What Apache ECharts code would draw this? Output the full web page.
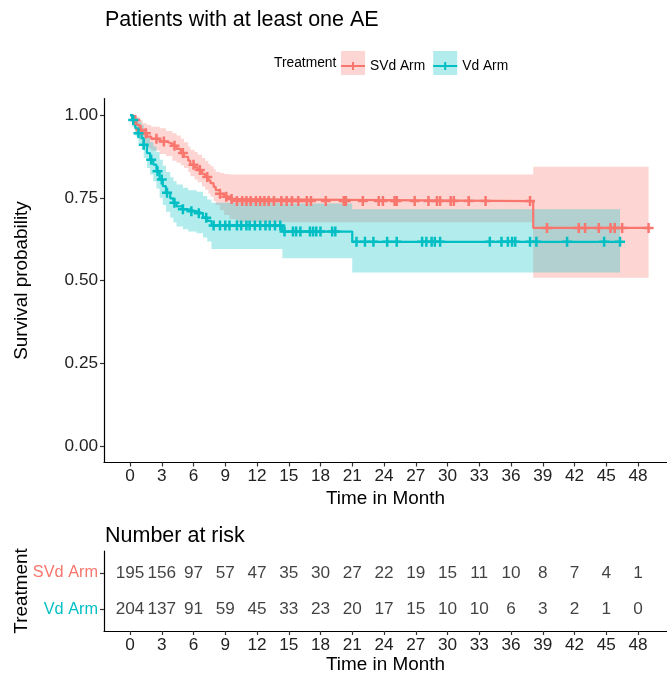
<!DOCTYPE html>
<html>
<head>
<meta charset="utf-8">
<script src="https://cdn.jsdelivr.net/npm/echarts@6/dist/echarts.min.js"></script>
<style>html,body{margin:0;padding:0;background:#fff}#c{width:667px;height:675px}</style>
</head>
<body>
<div id="c"></div>
<script>
// ---------- data ----------
const months = [0,3,6,9,12,15,18,21,24,27,30,33,36,39,42,45,48];
const yTicks = [0,0.25,0.5,0.75,1];
const groups = ['SVd Arm','Vd Arm'];
const svdRisk = [195,156,97,57,47,35,30,27,22,19,15,11,10,8,7,4,1];
const vdRisk  = [204,137,91,59,45,33,23,20,17,15,10,10,6,3,2,1,0];

// SVd arm Kaplan-Meier steps (time of step, survival after step, CI upper, CI lower)
const svdTime  = [0,0.3,0.6,0.9,1.2,1.6,2.0,2.8,3.4,4.0,4.4,4.8,5.1,5.5,5.7,6.1,6.4,6.8,7.1,7.4,7.6,7.9,8.1,8.5,8.9,9.4,10.0,38.1];
const svdSurv  = [1,0.985,0.97,0.955,0.945,0.935,0.928,0.92,0.914,0.907,0.898,0.885,0.874,0.862,0.85,0.842,0.834,0.822,0.813,0.803,0.794,0.783,0.773,0.762,0.753,0.746,0.740,0.659];
const svdUpper = [1,1.0,0.995,0.985,0.975,0.97,0.965,0.96,0.952,0.945,0.938,0.928,0.918,0.905,0.895,0.888,0.88,0.87,0.862,0.852,0.845,0.836,0.828,0.825,0.822,0.82,0.82,0.844];
const svdLower = [1,0.965,0.945,0.925,0.915,0.9,0.893,0.882,0.876,0.862,0.856,0.848,0.84,0.828,0.815,0.805,0.797,0.784,0.774,0.763,0.753,0.74,0.728,0.712,0.698,0.686,0.676,0.508];
const svdEnd = 49.0;
const svdCensor = [0.5,1.0,1.5,2.5,3.2,4.2,5.0,6.0,6.6,7.3,8.5,9.1,9.6,10.1,10.6,11.0,11.4,11.9,12.3,12.7,13.1,13.6,14.3,14.8,15.3,15.9,16.7,17.1,18.5,20.2,20.4,22.0,23.5,23.9,25.0,25.2,26.9,28.2,29.0,29.3,30.3,30.6,32.0,33.6,37.8,39.4,42.4,43.0,44.3,45.4,45.8,46.5,49.0];

// Vd arm Kaplan-Meier steps
const vdTime  = [0,0.2,0.5,0.8,1.1,1.3,1.6,1.9,2.2,2.5,2.8,3.1,3.4,3.8,4.1,4.4,5.0,5.5,6.3,6.9,7.3,7.7,14.4,21.0];
const vdSurv  = [1,0.985,0.96,0.945,0.93,0.91,0.885,0.865,0.85,0.83,0.805,0.785,0.765,0.748,0.735,0.724,0.715,0.709,0.703,0.69,0.68,0.666,0.648,0.617];
const vdUpper = [1,1.0,0.99,0.98,0.97,0.955,0.935,0.918,0.905,0.888,0.865,0.847,0.828,0.812,0.8,0.79,0.78,0.773,0.768,0.755,0.745,0.735,0.733,0.715];
const vdLower = [1,0.965,0.935,0.915,0.895,0.87,0.84,0.82,0.8,0.778,0.75,0.728,0.708,0.69,0.675,0.663,0.655,0.648,0.643,0.63,0.618,0.595,0.567,0.524];
const vdEnd = 46.3;
const vdCensor = [0.3,0.8,1.3,2.0,2.6,3.0,3.5,4.2,5.0,5.8,6.5,7.2,7.9,8.5,9.0,9.4,10.1,10.5,11.0,11.3,11.8,12.3,12.8,13.2,13.7,14.2,14.6,15.4,15.7,16.1,17.0,17.3,17.6,18.0,19.1,19.4,21.4,22.2,23.0,24.3,25.2,27.6,28.0,28.5,28.8,29.3,34.0,35.1,35.7,36.1,36.4,37.8,38.4,41.3,44.8,46.3];

// ---------- styling ----------
const RED = '#F8766D', CYAN = '#00BFC4';
function hasFont(name){
  const c = document.createElement('canvas').getContext('2d');
  const s = 'Time in Month 0123456789 Survival';
  c.font = '40px monospace'; const w1 = c.measureText(s).width;
  c.font = "40px '" + name + "', monospace"; const w2 = c.measureText(s).width;
  return Math.abs(w1 - w2) > 0.5;
}
const NARROW = hasFont('Liberation Sans Narrow');
const FONT = NARROW ? "'Liberation Sans Narrow', 'Liberation Sans', Arial, sans-serif" : "'Liberation Sans', Arial, sans-serif";
const K = NARROW ? 1 : 0.86;
const fs = n => Math.round(n * K * 10) / 10;

// ---------- helpers built from the arrays ----------
function stepLine(ts, ss, end){
  const pts = [];
  for (let i = 0; i < ts.length; i++){
    if (i > 0) pts.push([ts[i], ss[i-1]]);
    pts.push([ts[i], ss[i]]);
  }
  pts.push([end, ss[ss.length-1]]);
  return pts;
}
function bandPoly(ts, up, lo, end){
  const top = [], bot = [];
  for (let i = 0; i < ts.length; i++){
    const t0 = ts[i], t1 = i + 1 < ts.length ? ts[i+1] : end;
    top.push([t0, up[i]], [t1, up[i]]);
    bot.push([t0, lo[i]], [t1, lo[i]]);
  }
  return top.concat(bot.reverse());
}
function survAt(ts, ss, t){
  let v = ss[0];
  for (let i = 0; i < ts.length; i++) if (ts[i] <= t) v = ss[i];
  return v;
}
const plusPath = 'path://M3,0H5V3H8V5H5V8H3V5H0V3H3Z';
const legendLinePath = 'path://M0,3H11V0H13V3H24V5H13V8H11V5H0Z';

function bandSeries(name, poly, color){
  return {
    name, type: 'custom', xAxisIndex: 0, yAxisIndex: 0, silent: true,
    data: [[0, 1]],
    renderItem: (params, api) => ({
      type: 'polygon',
      shape: { points: poly.map(p => api.coord(p)) },
      style: { fill: color, opacity: 0.3 }
    }),
    z: 1
  };
}

const axisLineStyle = { color: '#000', width: 1.2 };
const tickStyle = { show: true, length: 4, lineStyle: { color: '#333', width: 1.2 } };

const chart = echarts.init(document.getElementById('c'), null, { renderer: 'canvas' });
chart.setOption({
  animation: false,
  textStyle: { fontFamily: FONT },
  title: [
    { text: 'Patients with at least one AE', left: 105, top: 9, padding: 0,
      textStyle: { fontFamily: FONT, fontSize: fs(25), fontWeight: 'normal', color: '#000' } },
    { text: 'Number at risk', left: 105, top: 525, padding: 0,
      textStyle: { fontFamily: FONT, fontSize: fs(25), fontWeight: 'normal', color: '#000' } }
  ],
  graphic: [
    { type: 'text', x: 274, y: 63,
      style: { text: 'Treatment', font: fs(16) + 'px ' + FONT, fill: '#000', verticalAlign: 'middle' } }
  ],
  legend: [
    { left: 341, top: 51, padding: 0, itemWidth: 24, itemHeight: 24, itemGap: 8, icon: 'rect',
      selectedMode: false,
      textStyle: { fontFamily: FONT, fontSize: fs(16), color: 'rgba(0,0,0,0)' },
      data: [{ name: groups[0], itemStyle: { color: 'rgba(248,118,109,0.3)', borderWidth: 0 } },
             { name: groups[1], itemStyle: { color: 'rgba(0,191,196,0.3)', borderWidth: 0 } }] },
    { left: 341, top: 59, padding: 0, itemWidth: 24, itemHeight: 8, itemGap: 8, icon: legendLinePath,
      selectedMode: false,
      textStyle: { fontFamily: FONT, fontSize: fs(16), color: '#000' },
      data: [{ name: groups[0], itemStyle: { color: RED, borderWidth: 0 } },
             { name: groups[1], itemStyle: { color: CYAN, borderWidth: 0 } }] }
  ],
  grid: [
    { left: 104, top: 98.5, width: 563, height: 364, containLabel: false, outerBoundsMode: 'none' },
    { left: 104, top: 551, width: 563, height: 80, containLabel: false, outerBoundsMode: 'none' }
  ],
  xAxis: [
    { type: 'value', gridIndex: 0, min: -2.457, max: 50.74,
      name: 'Time in Month', nameLocation: 'middle', nameGap: 22,
      nameTextStyle: { fontFamily: FONT, fontSize: fs(22), color: '#000' },
      axisLine: { show: true, onZero: false, lineStyle: axisLineStyle },
      axisTick: Object.assign({ customValues: months }, tickStyle),
      axisLabel: { customValues: months, margin: 5, fontFamily: FONT, fontSize: fs(20), color: '#222' },
      splitLine: { show: false } },
    { type: 'value', gridIndex: 1, min: -2.457, max: 50.74,
      name: 'Time in Month', nameLocation: 'middle', nameGap: 23,
      nameTextStyle: { fontFamily: FONT, fontSize: fs(22), color: '#000' },
      axisLine: { show: true, onZero: false, lineStyle: axisLineStyle },
      axisTick: Object.assign({ customValues: months }, tickStyle),
      axisLabel: { customValues: months, margin: 6, fontFamily: FONT, fontSize: fs(20), color: '#222' },
      splitLine: { show: false } }
  ],
  yAxis: [
    { type: 'value', gridIndex: 0, min: -0.05, max: 1.05,
      name: 'Survival probability', nameLocation: 'middle', nameGap: 73, nameRotate: 90, nameMoveOverlap: false,
      nameTextStyle: { fontFamily: FONT, fontSize: fs(22), color: '#000' },
      axisLine: { show: true, onZero: false, lineStyle: axisLineStyle },
      axisTick: Object.assign({ customValues: yTicks }, tickStyle),
      axisLabel: { customValues: yTicks, margin: 6, fontFamily: FONT, fontSize: fs(20), color: '#222',
                   formatter: v => Number(v).toFixed(2) },
      splitLine: { show: false } },
    { type: 'value', gridIndex: 1, min: 0.4, max: 2.6,
      name: 'Treatment', nameLocation: 'middle', nameGap: 73, nameRotate: 90, nameMoveOverlap: false,
      nameTextStyle: { fontFamily: FONT, fontSize: fs(22), color: '#000' },
      axisLine: { show: true, onZero: false, lineStyle: axisLineStyle },
      axisTick: Object.assign({ customValues: [1, 2] }, tickStyle),
      axisLabel: { customValues: [1, 2], margin: 6, fontFamily: FONT, fontSize: fs(19),
                   formatter: v => (Number(v) === 2 ? groups[0] : groups[1]),
                   color: v => (Number(v) === 2 ? RED : CYAN) },
      splitLine: { show: false } }
  ],
  series: [
    bandSeries(groups[0], bandPoly(svdTime, svdUpper, svdLower, svdEnd), RED),
    bandSeries(groups[1], bandPoly(vdTime, vdUpper, vdLower, vdEnd), CYAN),
    { name: groups[0], type: 'line', xAxisIndex: 0, yAxisIndex: 0, showSymbol: false, silent: true,
      data: stepLine(svdTime, svdSurv, svdEnd), lineStyle: { color: RED, width: 2.2 }, itemStyle: { color: RED }, z: 3 },
    { name: groups[1], type: 'line', xAxisIndex: 0, yAxisIndex: 0, showSymbol: false, silent: true,
      data: stepLine(vdTime, vdSurv, vdEnd), lineStyle: { color: CYAN, width: 2.2 }, itemStyle: { color: CYAN }, z: 3 },
    { name: groups[0], type: 'scatter', xAxisIndex: 0, yAxisIndex: 0, silent: true,
      symbol: plusPath, symbolSize: 10, itemStyle: { color: RED, opacity: 1 }, z: 4,
      data: svdCensor.map(t => [t, survAt(svdTime, svdSurv, t)]) },
    { name: groups[1], type: 'scatter', xAxisIndex: 0, yAxisIndex: 0, silent: true,
      symbol: plusPath, symbolSize: 10, itemStyle: { color: CYAN, opacity: 1 }, z: 4,
      data: vdCensor.map(t => [t, survAt(vdTime, vdSurv, t)]) },
    { name: 'risk', type: 'scatter', xAxisIndex: 1, yAxisIndex: 1, silent: true,
      symbol: 'circle', symbolSize: 1, itemStyle: { color: 'rgba(255,255,255,0)' },
      label: { show: true, position: 'inside', formatter: p => String(p.value[2]),
               fontFamily: FONT, fontSize: fs(20), color: '#111' },
      data: months.map((m, i) => [m, 2, svdRisk[i]]).concat(months.map((m, i) => [m, 1, vdRisk[i]])) }
  ]
});
</script>
</body>
</html>
